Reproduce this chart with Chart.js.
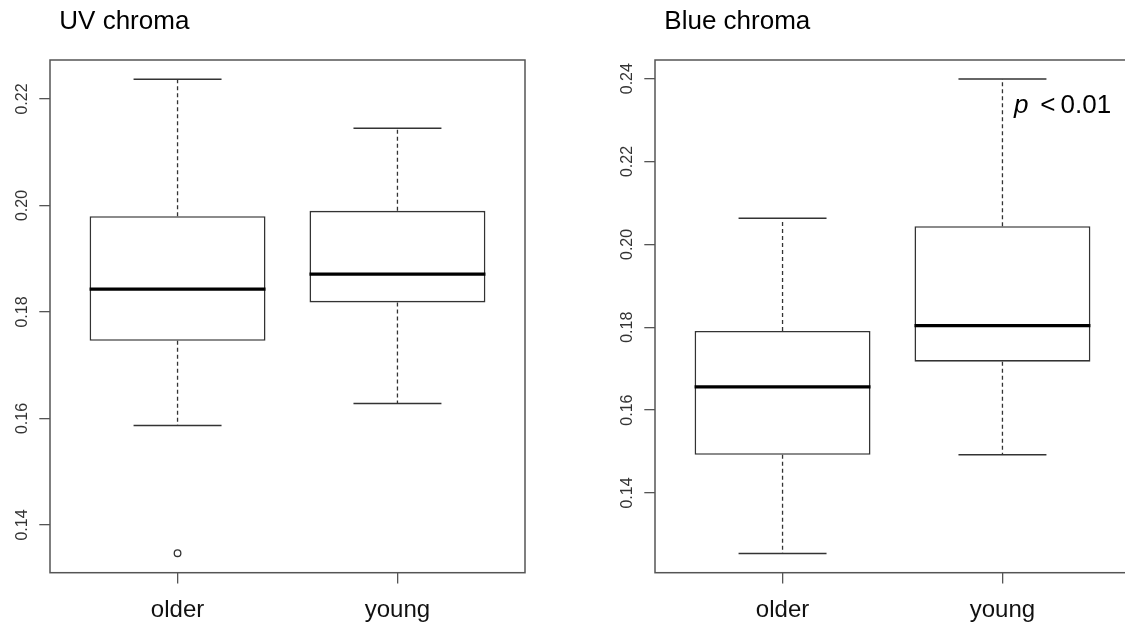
<!DOCTYPE html>
<html>
<head>
<meta charset="utf-8">
<script src="https://cdn.jsdelivr.net/npm/chart.js@4.4.1/dist/chart.umd.min.js"></script>
<style>
html,body{margin:0;padding:0;background:#fff;}
#wrap{position:relative;width:1125px;height:625px;overflow:hidden;background:#fff;}
#wrap canvas{position:absolute;top:0;}
</style>
</head>
<body>
<div id="wrap">
  <canvas id="c1" width="605" height="625" style="left:0px"></canvas>
  <canvas id="c2" width="605" height="625" style="left:605px"></canvas>
</div>
<script>
// ---------- data ----------
const groups = ['older', 'young'];

const uvTitle = 'UV chroma';
const uvLow    = [0.1587, 0.1628];
const uvQ1     = [0.1746, 0.1818];
const uvMedian = [0.1843, 0.1871];
const uvQ3     = [0.1980, 0.1990];
const uvHigh   = [0.2237, 0.2145];
const uvOutlierGroups = ['older'];
const uvOutlierValues = [0.1347];
const uvTicks  = [0.14, 0.16, 0.18, 0.20, 0.22];
const uvRange  = [0.13104, 0.22732];

const blueTitle = 'Blue chroma';
const blueLow    = [0.1254, 0.1492];
const blueQ1     = [0.1492, 0.1717];
const blueMedian = [0.1656, 0.1804];
const blueQ3     = [0.1791, 0.2044];
const blueHigh   = [0.2063, 0.2399];
const blueOutlierGroups = [];
const blueOutlierValues = [];
const blueTicks  = [0.14, 0.16, 0.18, 0.20, 0.22, 0.24];
const blueRange  = [0.12076, 0.24451];
const blueNoteItalic = 'p';
const blueNoteRest = '< 0.01';

// ---------- styling ----------
const FONT = '"Liberation Sans", Arial, Helvetica, sans-serif';
Chart.defaults.font.family = FONT;
const LINE = '#333';
const FRAME = '#555';

const boxPlugin = {
  id: 'boxplot',
  beforeDatasetsDraw(chart, args, o) {
    const {ctx, scales: {x, y}} = chart;
    ctx.save();
    ctx.strokeStyle = LINE;
    ctx.lineWidth = 1.3;
    const seg = (x1, y1, x2, y2) => { ctx.beginPath(); ctx.moveTo(x1, y1); ctx.lineTo(x2, y2); ctx.stroke(); };
    o.low.forEach((lo, i) => {
      const cx = x.getPixelForValue(i + 1);
      const hw = x.getPixelForValue(i + 1 + o.capHalf) - cx;
      const yLo = y.getPixelForValue(lo), yHi = y.getPixelForValue(o.high[i]);
      ctx.setLineDash([4, 3]);
      seg(cx, y.getPixelForValue(o.q3[i]), cx, yHi);
      seg(cx, y.getPixelForValue(o.q1[i]), cx, yLo);
      ctx.setLineDash([]);
      ctx.lineWidth = 1.5;
      seg(cx - hw, yHi, cx + hw, yHi);
      seg(cx - hw, yLo, cx + hw, yLo);
      ctx.lineWidth = 1.3;
    });
    ctx.restore();
  },
  afterDatasetsDraw(chart, args, o) {
    const {ctx, chartArea: a, scales: {x, y}} = chart;
    ctx.save();
    // medians
    ctx.strokeStyle = '#000';
    ctx.lineWidth = 3.2;
    o.median.forEach((m, i) => {
      const x1 = x.getPixelForValue(i + 1 - o.boxHalf), x2 = x.getPixelForValue(i + 1 + o.boxHalf);
      const py = y.getPixelForValue(m);
      ctx.beginPath(); ctx.moveTo(x1, py); ctx.lineTo(x2, py); ctx.stroke();
    });
    // frame
    ctx.strokeStyle = FRAME;
    ctx.lineWidth = 1.5;
    ctx.strokeRect(a.left, a.top, a.right - a.left, a.bottom - a.top);
    // rotated y tick labels
    ctx.fillStyle = '#333';
    ctx.font = '16px ' + FONT;
    ctx.textAlign = 'center';
    ctx.textBaseline = 'alphabetic';
    o.ticks.forEach(v => {
      const py = y.getPixelForValue(v);
      ctx.save();
      ctx.translate(a.left - 23, py);
      ctx.rotate(-Math.PI / 2);
      ctx.fillText(v.toFixed(2), 0, 0);
      ctx.restore();
    });
    // title
    ctx.fillStyle = '#000';
    ctx.textAlign = 'left';
    ctx.font = '26px ' + FONT;
    ctx.fillText(o.title, a.left + 9.3, 29.3);
    // note
    if (o.noteItalic) {
      const px = x.getPixelForValue(o.noteX), py = y.getPixelForValue(o.noteY);
      ctx.font = 'italic 26px ' + FONT;
      ctx.fillText(o.noteItalic, px, py);
      const w = ctx.measureText(o.noteItalic).width;
      ctx.font = '26px ' + FONT;
      const lt = o.noteRest.charAt(0);
      const x2 = px + w + 0.45 * 26;
      ctx.fillText(lt, x2, py);
      const w2 = ctx.measureText(lt).width;
      ctx.fillText(o.noteRest.slice(1).trim(), x2 + w2 + 0.2 * 26, py);
    }
    ctx.restore();
  }
};

function makeChart(id, title, low, q1, med, q3, high, outG, outV, ticks, range, note) {
  const boxData = groups.map((g, i) => ({x: i + 1, y: [q1[i], q3[i]]}));
  const outData = outG.map((g, k) => ({x: groups.indexOf(g) + 1, y: outV[k]}));
  return new Chart(document.getElementById(id), {
    type: 'bar',
    data: {
      datasets: [
        {
          type: 'bar',
          data: boxData,
          backgroundColor: '#fff',
          borderColor: LINE,
          borderWidth: 1.6,
          borderSkipped: false,
          categoryPercentage: 1,
          barPercentage: 0.8
        },
        {
          type: 'scatter',
          data: outData,
          pointRadius: 3.3,
          pointBorderWidth: 1.3,
          pointBackgroundColor: 'rgba(255,255,255,0)',
          pointBorderColor: LINE,
          showLine: false
        }
      ]
    },
    options: {
      responsive: false,
      animation: false,
      devicePixelRatio: 1,
      layout: {padding: {top: 60, right: 80, left: 0, bottom: 0}},
      plugins: {
        legend: {display: false},
        tooltip: {enabled: false},
        boxplot: Object.assign({
          title: title, low: low, q1: q1, median: med, q3: q3, high: high,
          ticks: ticks, capHalf: 0.2, boxHalf: 0.4
        }, note || {})
      },
      scales: {
        x: {
          type: 'linear',
          min: 0.42, max: 2.58,
          offset: false,
          afterBuildTicks: s => { s.ticks = groups.map((g, i) => ({value: i + 1})); },
          afterFit: s => { s.height = 52.3; },
          ticks: {
            autoSkip: false, maxRotation: 0, minRotation: 0,
            padding: 13,
            color: '#111',
            font: {size: 24},
            callback: v => groups[Math.round(v) - 1]
          },
          grid: {display: true, drawOnChartArea: false, drawTicks: true, tickLength: 10.7, color: FRAME, lineWidth: 1.3, offset: false},
          border: {display: false}
        },
        y: {
          type: 'linear',
          min: range[0], max: range[1],
          afterBuildTicks: s => { s.ticks = ticks.map(v => ({value: v})); },
          afterFit: s => { s.width = 50; },
          ticks: {display: false},
          grid: {display: true, drawOnChartArea: false, drawTicks: true, tickLength: 10.7, color: FRAME, lineWidth: 1.3},
          border: {display: false}
        }
      }
    },
    plugins: [boxPlugin]
  });
}

makeChart('c1', uvTitle, uvLow, uvQ1, uvMedian, uvQ3, uvHigh, uvOutlierGroups, uvOutlierValues, uvTicks, uvRange, null);
makeChart('c2', blueTitle, blueLow, blueQ1, blueMedian, blueQ3, blueHigh, blueOutlierGroups, blueOutlierValues, blueTicks, blueRange,
  {noteItalic: blueNoteItalic, noteRest: blueNoteRest, noteX: 2.0525, noteY: 0.2316});
</script>
</body>
</html>
